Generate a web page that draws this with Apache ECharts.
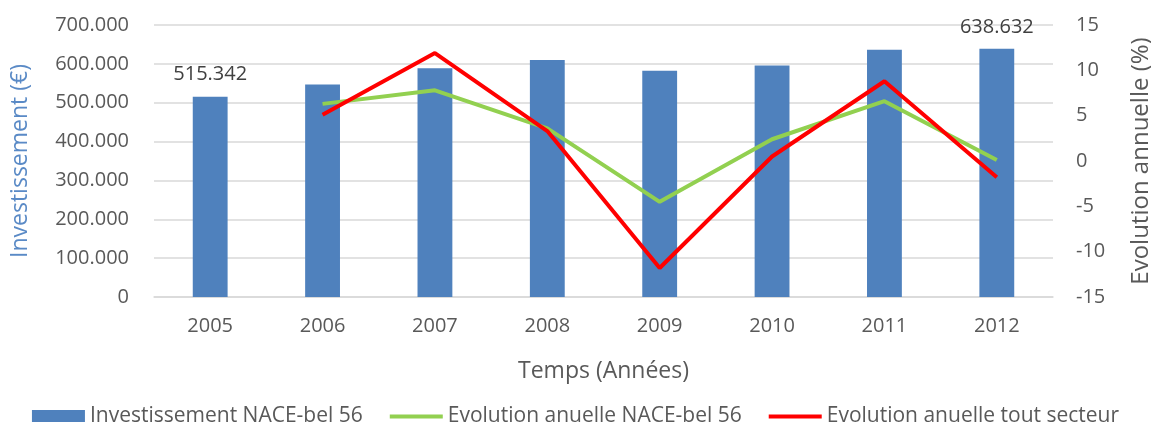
<!DOCTYPE html>
<html>
<head>
<meta charset="utf-8">
<script src="https://cdn.jsdelivr.net/npm/echarts@6/dist/echarts.min.js"></script>
<style>
html,body{margin:0;padding:0;background:#fff;}
#chart{width:1151px;height:422px;}
</style>
</head>
<body>
<div id="chart"></div>
<script>
const years = ['2005','2006','2007','2008','2009','2010','2011','2012'];
const investissement = [515342, 547000, 589000, 610000, 582000, 596000, 636000, 638632];
const evolNace = [null, 6.3, 7.8, 3.6, -4.5, 2.4, 6.6, 0.1];
const evolTout = [null, 5.1, 11.9, 3.3, -11.8, 0.5, 8.8, -1.8];
const labelledYears = ['2005', '2012'];

const FONT = 'Open Sans';
const fmtThousands = v => String(Math.round(v)).replace(/\B(?=(\d{3})+(?!\d))/g, '.');

const chart = echarts.init(document.getElementById('chart'));
chart.setOption({
  animation: false,
  textStyle: {fontFamily: FONT},
  grid: {left: 154, right: 98, top: 25, bottom: 125, containLabel: false, outerBoundsMode: 'none'},
  legend: {
    top: 401,
    left: 'center',
    itemWidth: 53,
    itemHeight: 13,
    itemGap: 27,
    textStyle: {fontFamily: FONT, fontSize: 21, color: '#595959'},
    data: [
      {name: 'Investissement NACE-bel 56', icon: 'rect'},
      {name: 'Evolution anuelle NACE-bel 56', icon: 'path://M0 0H53V4H0Z'},
      {name: 'Evolution anuelle tout secteur', icon: 'path://M0 0H53V4H0Z'}
    ]
  },
  xAxis: {
    type: 'category',
    data: years,
    name: 'Temps (Années)',
    nameLocation: 'middle',
    nameGap: 63,
    nameTextStyle: {fontFamily: FONT, fontSize: 23, color: '#595959'},
    axisLine: {lineStyle: {color: '#d9d9d9', width: 1.5}},
    axisTick: {show: false},
    axisLabel: {fontFamily: FONT, fontSize: 20, color: '#595959', margin: 19}
  },
  yAxis: [
    {
      type: 'value',
      min: 0, max: 700000, interval: 100000,
      name: 'Investissement (€)',
      nameLocation: 'middle',
      nameGap: 122,
      nameRotate: 90,
      nameTextStyle: {fontFamily: FONT, fontSize: 23, color: '#5a8ac6'},
      axisLine: {show: false},
      axisTick: {show: false},
      splitLine: {lineStyle: {color: '#d9d9d9', width: 1.5}},
      axisLabel: {fontFamily: FONT, fontSize: 20, color: '#595959', margin: 25, formatter: fmtThousands}
    },
    {
      type: 'value',
      min: -15, max: 15, interval: 5,
      name: 'Evolution annuelle (%)',
      nameLocation: 'middle',
      nameGap: 76,
      nameRotate: 90,
      nameTextStyle: {fontFamily: FONT, fontSize: 24, color: '#595959'},
      axisLine: {show: false},
      axisTick: {show: false},
      splitLine: {show: false},
      axisLabel: {fontFamily: FONT, fontSize: 20, color: '#595959', margin: 23}
    }
  ],
  series: [
    {
      name: 'Investissement NACE-bel 56',
      type: 'bar',
      yAxisIndex: 0,
      barWidth: '31%',
      itemStyle: {color: '#4f81bd'},
      data: investissement.map((v, i) => ({
        value: v,
        label: {
          show: labelledYears.includes(years[i]),
          position: 'top',
          distance: 12,
          fontFamily: FONT, fontSize: 20, color: '#404040',
          formatter: p => fmtThousands(p.value)
        }
      }))
    },
    {
      name: 'Evolution anuelle NACE-bel 56',
      type: 'line',
      yAxisIndex: 1,
      showSymbol: false,
      symbol: 'none',
      lineStyle: {color: '#92d050', width: 4},
      itemStyle: {color: '#92d050'},
      data: evolNace
    },
    {
      name: 'Evolution anuelle tout secteur',
      type: 'line',
      yAxisIndex: 1,
      showSymbol: false,
      symbol: 'none',
      lineStyle: {color: '#ff0000', width: 4},
      itemStyle: {color: '#ff0000'},
      data: evolTout
    }
  ]
});
</script>
</body>
</html>
